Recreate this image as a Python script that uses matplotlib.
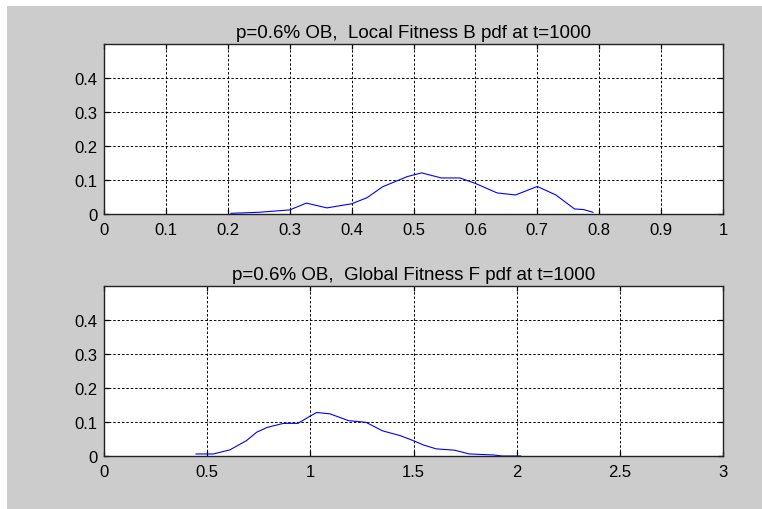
import matplotlib
matplotlib.use("Agg")
import matplotlib.pyplot as plt
from matplotlib.patches import Rectangle

# Data
local_x = [0.205, 0.25, 0.30, 0.327, 0.36, 0.40, 0.425, 0.45, 0.49, 0.513, 0.545,
           0.575, 0.60, 0.635, 0.665, 0.70, 0.73, 0.76, 0.775, 0.79]
local_y = [0.002, 0.005, 0.012, 0.032, 0.018, 0.030, 0.048, 0.080, 0.110, 0.121, 0.106,
           0.106, 0.090, 0.062, 0.056, 0.081, 0.056, 0.015, 0.013, 0.005]

global_x = [0.446, 0.53, 0.61, 0.69, 0.74, 0.79, 0.87, 0.94, 0.99, 1.03, 1.095, 1.185,
            1.27, 1.35, 1.435, 1.50, 1.55, 1.61, 1.70, 1.77, 1.89, 1.93, 2.02]
global_y = [0.006, 0.006, 0.018, 0.045, 0.070, 0.084, 0.096, 0.096, 0.114, 0.128, 0.124, 0.104,
            0.099, 0.074, 0.060, 0.045, 0.032, 0.021, 0.017, 0.006, 0.003, 0.000, 0.000]

local_xticks = [0, 0.1, 0.2, 0.3, 0.4, 0.5, 0.6, 0.7, 0.8, 0.9, 1]
local_xlabels = ["0", "0.1", "0.2", "0.3", "0.4", "0.5", "0.6", "0.7", "0.8", "0.9", "1"]
global_xticks = [0, 0.5, 1, 1.5, 2, 2.5, 3]
global_xlabels = ["0", "0.5", "1", "1.5", "2", "2.5", "3"]
yticks = [0, 0.1, 0.2, 0.3, 0.4]
ylabels = ["0", "0.1", "0.2", "0.3", "0.4"]

title_top = "p=0.6% OB,  Local Fitness B pdf at t=1000"
title_bottom = "p=0.6% OB,  Global Fitness F pdf at t=1000"

plt.rcParams['font.family'] = ['Liberation Sans', 'DejaVu Sans']

W, H = 762, 510
fig = plt.figure(figsize=(W / 100, H / 100), dpi=100, facecolor='white')
fig.patches.append(Rectangle((7 / W, 0), 1 - 7 / W, 1 - 7 / H, transform=fig.transFigure,
                             facecolor='#cccccc', edgecolor='none', zorder=-10))

left = 104 / W
width = 619 / W
ax1 = fig.add_axes([left, 1 - 215 / H, width, 170 / H])
ax2 = fig.add_axes([left, 1 - 457 / H, width, 170 / H])

def style(ax, xt, xl, xmax, title):
    ax.set_facecolor('white')
    ax.set_xlim(0, xmax)
    ax.set_ylim(0, 0.5)
    ax.set_xticks(xt)
    ax.set_xticklabels(xl)
    ax.set_yticks(yticks)
    ax.set_yticklabels(ylabels)
    ax.tick_params(direction='in', length=3.5, width=0.9, top=True, right=True,
                   labelsize=12, colors='black')
    ax.tick_params(axis='x', pad=5.5)
    ax.tick_params(axis='y', pad=4.5)
    ax.grid(True, color='black', linestyle=(0, (2.5, 2.0)), linewidth=0.7)
    for s in ax.spines.values():
        s.set_linewidth(1.0)
        s.set_color('#222222')
    ax.set_title(title, fontsize=13.5, pad=5)

ax1.plot(local_x, local_y, color='#0000ff', linewidth=0.8)
style(ax1, local_xticks, local_xlabels, 1, title_top)
ax2.plot(global_x, global_y, color='#0000ff', linewidth=0.8)
style(ax2, global_xticks, global_xlabels, 3, title_bottom)

fig.savefig("out.png", dpi=100, facecolor=fig.get_facecolor())
